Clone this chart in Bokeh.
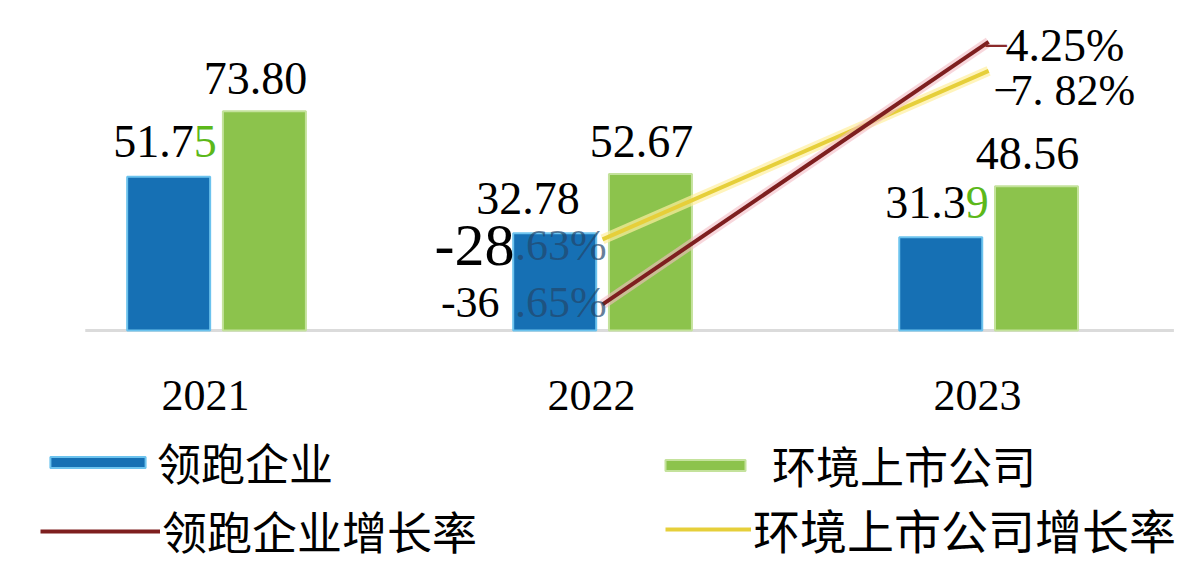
from bokeh.plotting import figure
from bokeh.models import ColumnDataSource, Range1d, Legend, LegendItem
from bokeh.core.properties import value
from bokeh.embed import file_html
from bokeh.resources import INLINE

# ---------------- data ----------------
years = ["2021", "2022", "2023"]
leader = [51.75, 32.78, 31.39]          # 领跑企业
listed = [73.80, 52.67, 48.56]          # 环境上市公司
growth_years = ["2022", "2023"]
leader_growth = [-36.65, -4.25]         # 领跑企业增长率 (%)
listed_growth = [-28.63, -7.82]         # 环境上市公司增长率 (%)
leader_growth_text = ["-36.65%", "−4.25%"]
listed_growth_text = ["-28.63%", "−7. 82%"]
green_last_digit = [True, False, True]
legend_labels = ["领跑企业", "环境上市公司", "领跑企业增长率", "环境上市公司增长率"]

W, H = 1185, 562
SERIF = value("Liberation Serif")
CJK = "Noto Sans CJK SC"

xpos = list(range(len(years)))
gx = [years.index(y) for y in growth_years]
OFF, BW = 0.124, 0.215

p = figure(width=W, height=H, output_backend="svg", toolbar_location=None,
           x_range=Range1d(-0.5596, 2.510), y_range=Range1d(-78.1, 111.1),
           x_axis_location=None, y_axis_location=None, min_border=0)
p.extra_y_ranges = {"pct": Range1d(-68.5, 0.86)}
p.grid.visible = False
p.outline_line_color = None
p.background_fill_color = "white"
p.border_fill_color = "white"

src = ColumnDataSource(dict(
    x=xpos,
    xb=[x - OFF for x in xpos],
    xg=[x + OFF for x in xpos],
    leader=leader,
    listed=listed,
    head=[f"{v:.2f}"[:-1] if m else f"{v:.2f}" for v, m in zip(leader, green_last_digit)],
    tail=[f"{v:.2f}"[-1] if m else "" for v, m in zip(leader, green_last_digit)],
    glab=[f"{v:.2f}" for v in listed],
    year=years,
))

# baseline
p.segment(x0=[xpos[0] - 0.34], y0=[0], x1=[xpos[-1] + 0.48], y1=[0],
          line_color="#cccccc", line_width=3, line_alpha=0.7)

# bars
r_blue = p.vbar(x="xb", top="leader", width=BW, bottom=0, source=src,
                fill_color="#1670b4", line_color="#6cc3ee", line_width=2)
r_green = p.vbar(x="xg", top="listed", width=BW, bottom=0, source=src,
                 fill_color="#8cc34c", line_color="#c4e29c", line_width=2)

# growth lines
gsrc = ColumnDataSource(dict(x=gx, leader=leader_growth, listed=listed_growth))
p.line("x", "listed", source=gsrc, y_range_name="pct", line_color="#fff0a0",
       line_width=10, line_alpha=0.7)
r_yel = p.line("x", "listed", source=gsrc, y_range_name="pct", line_color="#e6cf3a",
               line_width=4)
p.line("x", "leader", source=gsrc, y_range_name="pct", line_color="#f4bcc4",
       line_width=10, line_alpha=0.6)
r_red = p.line("x", "leader", source=gsrc, y_range_name="pct", line_color="#7e1f1f",
               line_width=4)

# value labels
p.text(x="xb", y="leader", text="head", source=src, text_align="right",
       text_baseline="middle", x_offset=25, y_offset=-35, text_font=SERIF,
       text_font_size="46px", text_color="black")
p.text(x="xb", y="leader", text="tail", source=src, text_align="left",
       text_baseline="middle", x_offset=25, y_offset=-35, text_font=SERIF,
       text_font_size="46px", text_color="#5cb81a")
p.text(x="xg", y="listed", text="glab", source=src, text_align="center",
       text_baseline="middle", x_offset=-9, y_offset=-33, text_font=SERIF,
       text_font_size="46px", text_color="black")

# year labels
p.text(x="x", y=0, text="year", source=src, text_align="center",
       text_baseline="middle", x_offset=-11, y_offset=65, text_font=SERIF,
       text_font_size="44px", text_color="black")

# growth labels, first point (2022)
for vals, texts, head_size, head_dx, dy in ((leader_growth, leader_growth_text, "44px", -103, -2),
                                             (listed_growth, listed_growth_text, "60px", -88, 6)):
    s = texts[0]
    p.text(x=[gx[0]], y=[vals[0]], text=[s[3:]], y_range_name="pct", text_align="right",
           text_baseline="middle", x_offset=4, y_offset=dy, text_font=SERIF,
           text_font_size="44px", text_color="#23466b", text_alpha=0.7)
    p.text(x=[gx[0]], y=[vals[0]], text=[s[:3]], y_range_name="pct", text_align="right",
           text_baseline="middle", x_offset=head_dx, y_offset=dy, text_font=SERIF,
           text_font_size=head_size, text_color="black")

# growth labels, last point (2023)
for vals, texts, head_color, hdx, tdx, dy, fs in ((leader_growth, leader_growth_text, "#8b2a2a", -5, 17, 4, "46px"),
                                                  (listed_growth, listed_growth_text, "black", 5, 22, 20, "44px")):
    s = texts[1]
    p.text(x=[gx[1]], y=[vals[1]], text=[s[:1]], y_range_name="pct", text_align="left",
           text_baseline="middle", x_offset=hdx, y_offset=dy, text_font=SERIF,
           text_font_size=fs, text_color=head_color)
    p.text(x=[gx[1]], y=[vals[1]], text=[s[1:]], y_range_name="pct", text_align="left",
           text_baseline="middle", x_offset=tdx, y_offset=dy, text_font=SERIF,
           text_font_size=fs, text_color="black")

# legends
def add_legend(renderer, label, loc, gw, gh, standoff, fs):
    lg = Legend(items=[LegendItem(label=label, renderers=[renderer])], location=loc,
                glyph_width=gw, glyph_height=gh, label_standoff=standoff,
                label_text_font=CJK, label_text_font_size=fs, label_text_color="black",
                padding=0, margin=0, spacing=0,
                border_line_alpha=0, background_fill_alpha=0)
    p.add_layout(lg)

add_legend(r_blue, legend_labels[0], (38, 68), 119, 14, 0, "44px")
add_legend(r_green, legend_labels[1], (655, 65), 100, 14, 17, "44px")
add_legend(r_red, legend_labels[2], (40, -1), 120, 12, 2, "45px")
add_legend(r_yel, legend_labels[3], (665, -1), 86, 12, 2, "47px")

open("out.html", "w").write(file_html(p, INLINE))
